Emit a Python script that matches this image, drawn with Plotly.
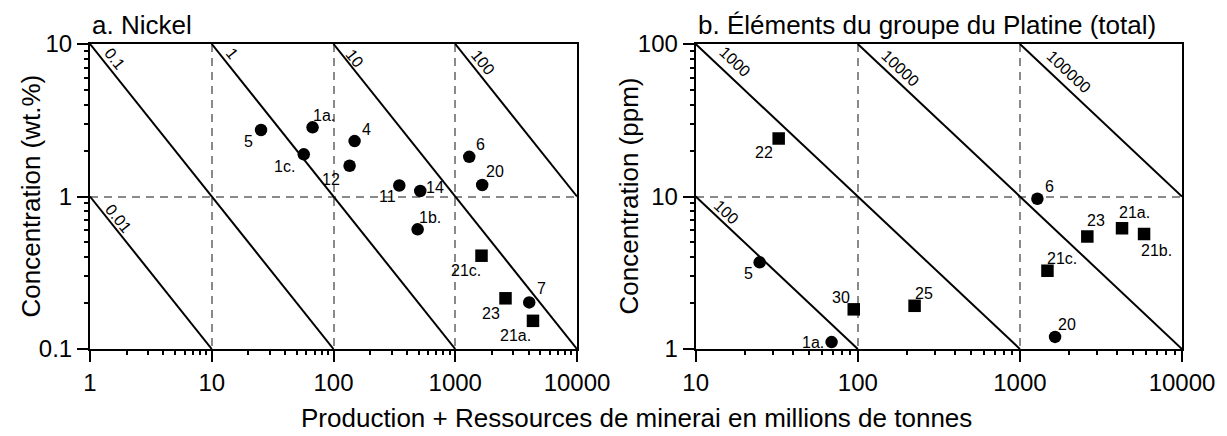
import math
import plotly.graph_objects as go

# ---------------- data ----------------
# a. Nickel : tonnage (Mt) vs grade (wt.%)
ni_circle_labels = ["5", "1a.", "1c.", "4", "12", "11", "14", "6", "20", "1b.", "7"]
ni_circle_tonnage = [25.4, 67.3, 57.0, 149, 135.6, 347, 516, 1303, 1665, 491, 4050]
ni_circle_grade = [2.73, 2.84, 1.89, 2.31, 1.59, 1.18, 1.087, 1.82, 1.19, 0.609, 0.202]

ni_square_labels = ["21c.", "23", "21a."]
ni_square_tonnage = [1643, 2587, 4350]
ni_square_grade = [0.409, 0.215, 0.153]

# b. PGE total : tonnage (Mt) vs grade (ppm)
pge_circle_labels = ["6", "5", "1a.", "20"]
pge_circle_tonnage = [1282, 24.8, 68.9, 1648]
pge_circle_grade = [9.66, 3.70, 1.11, 1.20]

pge_square_labels = ["22", "30", "25", "21c.", "23", "21a.", "21b."]
pge_square_tonnage = [32.5, 94.4, 224, 1479, 2606, 4266, 5834]
pge_square_grade = [24.0, 1.82, 1.92, 3.26, 5.46, 6.18, 5.68]

# contained metal iso-lines
ni_contours = ["0.01", "0.1", "1", "10", "100"]        # Mt Ni
pge_contours = ["100", "1000", "10000", "100000"]      # t PGE

ni_xticks = [1, 10, 100, 1000, 10000]
ni_yticks = [0.1, 1, 10]
pge_xticks = [10, 100, 1000, 10000]
pge_yticks = [1, 10, 100]

# ---------------- styling / placement ----------------
FONT = "Liberation Sans, Arial, sans-serif"
PAGE_W, PAGE_H = 1227, 436
BODY = 8  # default page body margin
W, H = PAGE_W - BODY, PAGE_H - BODY


def px(x):  # page pixel -> paper fraction
    return (x - BODY) / W


def py(y):
    return 1 - (y - BODY) / H


# point label offsets in pixels (dx right, dy down)
ni_label_off = {"5": (-12.6, 11.7), "1a.": (11, -12), "1c.": (-19, 12.4), "4": (11.5, -11.7),
                "12": (-19, 14), "11": (-12, 11), "14": (15, -3), "6": (11.5, -12.4),
                "20": (12.6, -13.3), "1b.": (12, -12), "7": (12.6, -14), "21c.": (-16, 14.8),
                "23": (-14.5, 15), "21a.": (-17, 15)}
pge_label_off = {"22": (-14.7, 14.4), "6": (12.5, -12), "5": (-11.5, 11), "30": (-13, -12),
                 "25": (9, -12.3), "1a.": (-19, 0), "20": (12.3, -12), "21c.": (15, -12.3),
                 "23": (9, -16), "21a.": (12, -16), "21b.": (12, 16.7)}
# iso-line label offsets from the line's upper-left end (dx right, dy down)
ni_line_off = {"0.01": (28.5, 21.8), "0.1": (24.6, 14.3), "1": (20.5, 9), "10": (21.5, 14), "100": (28, 18)}
pge_line_off = {"100": (31.1, 15.7), "1000": (39, 17.7), "10000": (42.7, 24.3), "100000": (48.3, 27.7)}

ni_dom_x = [px(90), px(577)]
pge_dom_x = [px(695.7), px(1182)]
dom_y = [py(349), py(44)]

ANGLES = {
    "x": math.degrees(math.atan((305 / 2) / (487 / 4))),
    "x2": math.degrees(math.atan((305 / 2) / (486.3 / 3))),
}

LABEL_FONT = dict(family=FONT, size=16, color="black")

fig = go.Figure()


def minor_vals(lo_exp, hi_exp):
    out = []
    for e in range(lo_exp, hi_exp):
        for m in range(2, 10):
            out.append(m * 10 ** e)
    return out


def add_panel(xref, yref, xr, yr, contours, factor, line_off, circ, sq, label_off):
    (xmin, xmax), (ymin, ymax) = xr, yr
    for lab in contours:
        P = float(lab) * factor
        x0 = max(xmin, P / ymax)
        x1 = min(xmax, P / ymin)
        if x1 <= x0:
            continue
        fig.add_trace(go.Scatter(x=[x0, x1], y=[P / x0, P / x1], mode="lines",
                                 line=dict(color="black", width=2), xaxis=xref, yaxis=yref,
                                 hoverinfo="skip", showlegend=False))
        ox, oy = line_off[lab]
        fig.add_annotation(x=math.log10(x0), y=math.log10(P / x0), xref=xref, yref=yref,
                           text=lab, showarrow=False, textangle=ANGLES[xref],
                           xshift=ox, yshift=-oy, xanchor="center", yanchor="middle",
                           font=LABEL_FONT)
    for (labels, xs, ys), sym in ((circ, "circle"), (sq, "square")):
        fig.add_trace(go.Scatter(x=xs, y=ys, mode="markers", xaxis=xref, yaxis=yref,
                                 marker=dict(symbol=sym, size=12.5, color="black"),
                                 showlegend=False, hoverinfo="skip"))
        for lab, xv, yv in zip(labels, xs, ys):
            ox, oy = label_off[lab]
            fig.add_annotation(x=math.log10(xv), y=math.log10(yv), xref=xref, yref=yref,
                               text=lab, showarrow=False, xshift=ox, yshift=-oy,
                               xanchor="center", yanchor="middle", font=LABEL_FONT)


add_panel("x", "y", (1, 10000), (0.1, 10), ni_contours, 100, ni_line_off,
          (ni_circle_labels, ni_circle_tonnage, ni_circle_grade),
          (ni_square_labels, ni_square_tonnage, ni_square_grade), ni_label_off)
add_panel("x2", "y2", (10, 10000), (1, 100), pge_contours, 1, pge_line_off,
          (pge_circle_labels, pge_circle_tonnage, pge_circle_grade),
          (pge_square_labels, pge_square_tonnage, pge_square_grade), pge_label_off)


def axis(domain, rng, ticks, minor, anchor):
    return dict(type="log", range=rng, domain=domain, anchor=anchor, automargin=False,
                showline=True, linecolor="black", linewidth=2, mirror=True,
                ticks="outside", ticklen=11, tickwidth=2, tickcolor="black",
                tickvals=ticks, ticktext=[f"{t:g}" for t in ticks],
                tickfont=dict(family=FONT, size=24, color="black"),
                showgrid=True, gridcolor="#8a8a8a", gridwidth=1.5, griddash="8px,6px",
                zeroline=False,
                minor=dict(ticks="outside", ticklen=4, tickwidth=1.5, tickcolor="black",
                           tickvals=minor, showgrid=False))


fig.update_layout(
    width=W, height=H, margin=dict(l=0, r=0, t=0, b=0, pad=0, autoexpand=False),
    paper_bgcolor="white", plot_bgcolor="white",
    xaxis=axis(ni_dom_x, [0, 4], ni_xticks, minor_vals(0, 4), "y"),
    yaxis=axis(dom_y, [-1, 1], ni_yticks, minor_vals(-1, 1), "x"),
    xaxis2=axis(pge_dom_x, [1, 4], pge_xticks, minor_vals(1, 4), "y2"),
    yaxis2=axis(dom_y, [0, 2], pge_yticks, minor_vals(0, 2), "x2"),
)

TITLE_FONT = dict(family=FONT, size=26, color="black")
fig.add_annotation(x=px(90), y=py(25), xref="paper", yref="paper", text="a. Nickel",
                   showarrow=False, xanchor="left", yanchor="middle", font=TITLE_FONT)
fig.add_annotation(x=px(696), y=py(25), xref="paper", yref="paper",
                   text="b. Éléments du groupe du Platine (total)",
                   showarrow=False, xanchor="left", yanchor="middle", font=TITLE_FONT)
fig.add_annotation(x=px(30), y=py(196.5), xref="paper", yref="paper",
                   text="Concentration (wt.%)", textangle=-90,
                   showarrow=False, xanchor="center", yanchor="middle", font=TITLE_FONT)
fig.add_annotation(x=px(628), y=py(196.5), xref="paper", yref="paper",
                   text="Concentration (ppm)", textangle=-90,
                   showarrow=False, xanchor="center", yanchor="middle", font=TITLE_FONT)
fig.add_annotation(x=px(636), y=py(418), xref="paper", yref="paper",
                   text="Production + Ressources de minerai en millions de tonnes",
                   showarrow=False, xanchor="center", yanchor="middle", font=TITLE_FONT)

fig.write_html("out.html")
